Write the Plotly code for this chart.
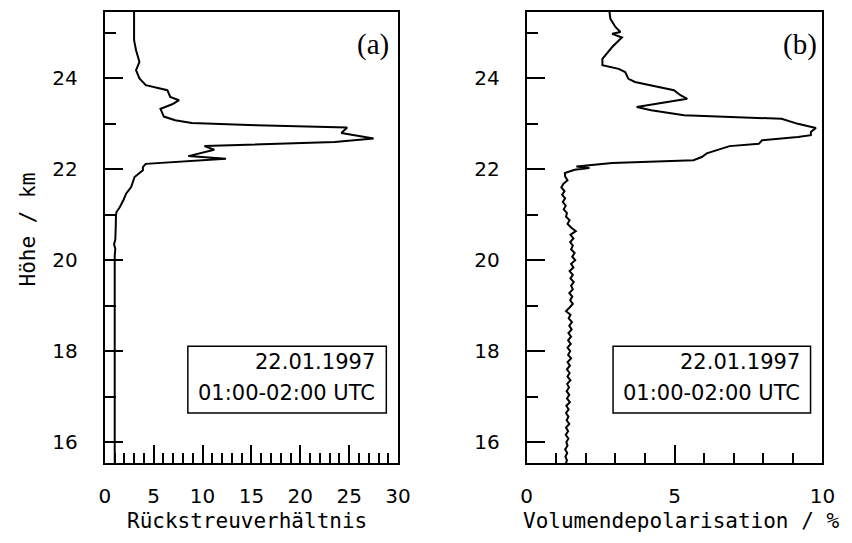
import plotly.graph_objects as go

# ---------------- data ----------------
# Panel (a): backscatter ratio vs altitude (km)
bsr_alt = [25.55, 24.84, 24.62, 24.36, 24.18, 24.00, 23.85, 23.74, 23.59, 23.52,
           23.43, 23.33, 23.16, 23.08, 23.02, 22.97, 22.92, 22.80, 22.68, 22.60,
           22.51, 22.43, 22.29, 22.23, 22.12, 22.05, 21.98, 21.83, 21.61, 21.47,
           21.32, 21.17, 21.06, 20.99, 20.70, 20.45, 20.35, 20.25, 20.10, 15.50]
bsr_val = [3.0, 3.0, 3.2, 3.55, 3.2, 3.55, 4.2, 6.4, 6.7, 7.6,
           6.9, 5.7, 6.05, 7.2, 8.9, 15.5, 24.8, 24.2, 27.5, 23.5,
           10.2, 11.2, 8.55, 12.4, 4.2, 3.9, 3.9, 3.05, 2.7, 2.2,
           1.9, 1.55, 1.2, 1.15, 1.12, 1.08, 0.95, 1.08, 1.02, 1.02]

# Panel (b): volume depolarisation (%) vs altitude (km)
dep_alt = [25.55, 25.31, 25.13, 25.02, 24.98, 24.90, 24.69, 24.43, 24.29, 24.21,
           24.14, 23.99, 23.92, 23.74, 23.63, 23.55, 23.37, 23.30, 23.19, 23.11,
           23.00, 22.91, 22.82, 22.75, 22.71, 22.64, 22.56, 22.51, 22.35, 22.27,
           22.20, 22.14, 22.06, 22.03, 21.99, 21.92,
           21.84, 21.76, 21.68, 21.60, 21.52, 21.44, 21.36, 21.28, 21.20, 21.12,
           21.04, 20.96, 20.88, 20.80, 20.72, 20.64, 20.56, 20.48, 20.40, 20.32,
           20.24, 20.16, 20.08, 20.00, 19.92, 19.84, 19.76, 19.68, 19.60, 19.52,
           19.44, 19.36, 19.28, 19.20, 19.12, 19.04, 18.96, 18.88, 18.80, 18.72,
           18.64, 18.56, 18.48, 18.40, 18.32, 18.24, 18.16, 18.08, 18.00, 17.92,
           17.84, 17.76, 17.68, 17.60, 17.52, 17.44, 17.36, 17.28, 17.20, 17.12,
           17.04, 16.96, 16.88, 16.80, 16.72, 16.64, 16.56, 16.48, 16.40, 16.32,
           16.24, 16.16, 16.08, 16.00, 15.92, 15.84, 15.76, 15.68, 15.60, 15.52]
dep_val = [2.78, 2.83, 3.00, 3.17, 2.89, 3.22, 2.89, 2.56, 2.56, 3.11,
           3.33, 3.44, 3.66, 4.98, 5.20, 5.43, 3.72, 4.21, 5.32, 8.62,
           9.17, 9.78, 9.61, 9.61, 9.17, 7.96, 7.85, 6.86, 6.09, 5.92,
           5.64, 2.89, 1.68, 2.12, 1.62, 1.29,
           1.30, 1.38, 1.24, 1.17, 1.28, 1.20, 1.30, 1.22, 1.32, 1.25,
           1.36, 1.33, 1.45, 1.38, 1.50, 1.66, 1.48, 1.58, 1.47, 1.56,
           1.50, 1.62, 1.54, 1.64, 1.50, 1.58, 1.45, 1.56, 1.48, 1.59,
           1.50, 1.56, 1.44, 1.54, 1.47, 1.56, 1.45, 1.33, 1.48, 1.42,
           1.53, 1.44, 1.52, 1.41, 1.50, 1.40, 1.49, 1.38, 1.47, 1.40,
           1.50, 1.38, 1.46, 1.36, 1.45, 1.38, 1.48, 1.37, 1.43, 1.35,
           1.44, 1.36, 1.46, 1.34, 1.42, 1.33, 1.41, 1.35, 1.44, 1.33,
           1.40, 1.32, 1.41, 1.34, 1.38, 1.30, 1.37, 1.31, 1.36, 1.32]

panel_labels = ["(a)", "(b)"]
date_text = "22.01.1997"
time_text = "01:00-02:00 UTC"
y_title = "Höhe / km"
x1_title = "Rückstreuverhältnis"
x2_title = "Volumendepolarisation / %"

# ---------------- figure ----------------
W, H = 852, 543
FONT = "DejaVu Sans"
TFONT = "DejaVu Sans Mono"
SERIF = "Liberation Serif"

def px(x):
    return x / W

def py(y):
    return 1 - y / H

fig = go.Figure()
fig.add_trace(go.Scatter(x=bsr_val, y=bsr_alt, mode="lines",
                         line=dict(color="black", width=2),
                         xaxis="x", yaxis="y", showlegend=False))
fig.add_trace(go.Scatter(x=dep_val, y=dep_alt, mode="lines",
                         line=dict(color="black", width=2),
                         xaxis="x2", yaxis="y2", showlegend=False))

tickfont = dict(family=FONT, size=20, color="black")
common_axis = dict(showline=True, linecolor="black", linewidth=2, mirror=True,
                   ticks="inside", tickwidth=2, tickcolor="black",
                   showgrid=False, zeroline=False, tickfont=tickfont)

yr = [15.54, 25.46]
ydom = [py(463), py(12)]

minor_x = dict(dtick=1, ticklen=10, ticks="inside", tickwidth=2,
               tickcolor="black", showgrid=False)
minor_y = dict(dtick=1, ticklen=11, ticks="inside", tickwidth=2,
               tickcolor="black", showgrid=False)

fig.update_layout(
    width=W, height=H,
    margin=dict(l=0, r=0, t=0, b=0),
    paper_bgcolor="white", plot_bgcolor="white",
    xaxis=dict(domain=[px(101), px(401)], anchor="y", range=[0, 30],
               tick0=0, dtick=5, ticklen=18, ticklabelstandoff=14,
               minor=minor_x, **common_axis),
    yaxis=dict(domain=ydom, anchor="x", range=yr,
               tick0=0, dtick=2, ticklen=18, ticklabelstandoff=21,
               minor=minor_y, **common_axis),
    xaxis2=dict(domain=[px(532.6), px(835)], anchor="y2", range=[0, 10],
                tick0=0, dtick=5, ticklen=18, ticklabelstandoff=14,
                minor=minor_x, **common_axis),
    yaxis2=dict(domain=ydom, anchor="x2", range=yr,
                tick0=0, dtick=2, ticklen=18, ticklabelstandoff=21,
                minor=minor_y, **common_axis),
)

# Legend boxes (in axis data coordinates)
boxes = [("x", "y", 8.5, 28.8, 27.8), ("x2", "y2", 2.92, 9.6, 9.32)]
for xr, yrf, x0, x1, xt in boxes:
    fig.add_shape(type="rect", xref=xr, yref=yrf, x0=x0, x1=x1, y0=16.64, y1=18.11,
                  line=dict(color="black", width=1.5), fillcolor="white", layer="above")
    fig.add_annotation(xref=xr, yref=yrf, x=xt, y=17.77, text=date_text,
                       showarrow=False, xanchor="right", yanchor="middle",
                       font=dict(family=FONT, size=21, color="black"))
    fig.add_annotation(xref=xr, yref=yrf, x=xt, y=17.08, text=time_text,
                       showarrow=False, xanchor="right", yanchor="middle",
                       font=dict(family=FONT, size=21, color="black"))

# Panel labels
fig.add_annotation(xref="x", yref="y", x=29.3, y=24.75, text=panel_labels[0],
                   showarrow=False, xanchor="right", yanchor="middle",
                   font=dict(family=SERIF, size=29, color="black"))
fig.add_annotation(xref="x2", yref="y2", x=9.9, y=24.75, text=panel_labels[1],
                   showarrow=False, xanchor="right", yanchor="middle",
                   font=dict(family=SERIF, size=29, color="black"))

# Axis titles
title_font = dict(family=TFONT, size=21, color="black")
fig.add_annotation(xref="paper", yref="paper", x=px(23), y=py(229), text=y_title,
                   showarrow=False, textangle=-90, xanchor="center", yanchor="middle",
                   font=title_font)
fig.add_annotation(xref="paper", yref="paper", x=px(247), y=py(521), text=x1_title,
                   showarrow=False, xanchor="center", yanchor="middle", font=title_font)
fig.add_annotation(xref="paper", yref="paper", x=px(690), y=py(521), text=x2_title,
                   showarrow=False, xanchor="center", yanchor="middle", font=title_font)

fig.write_html("out.html")
